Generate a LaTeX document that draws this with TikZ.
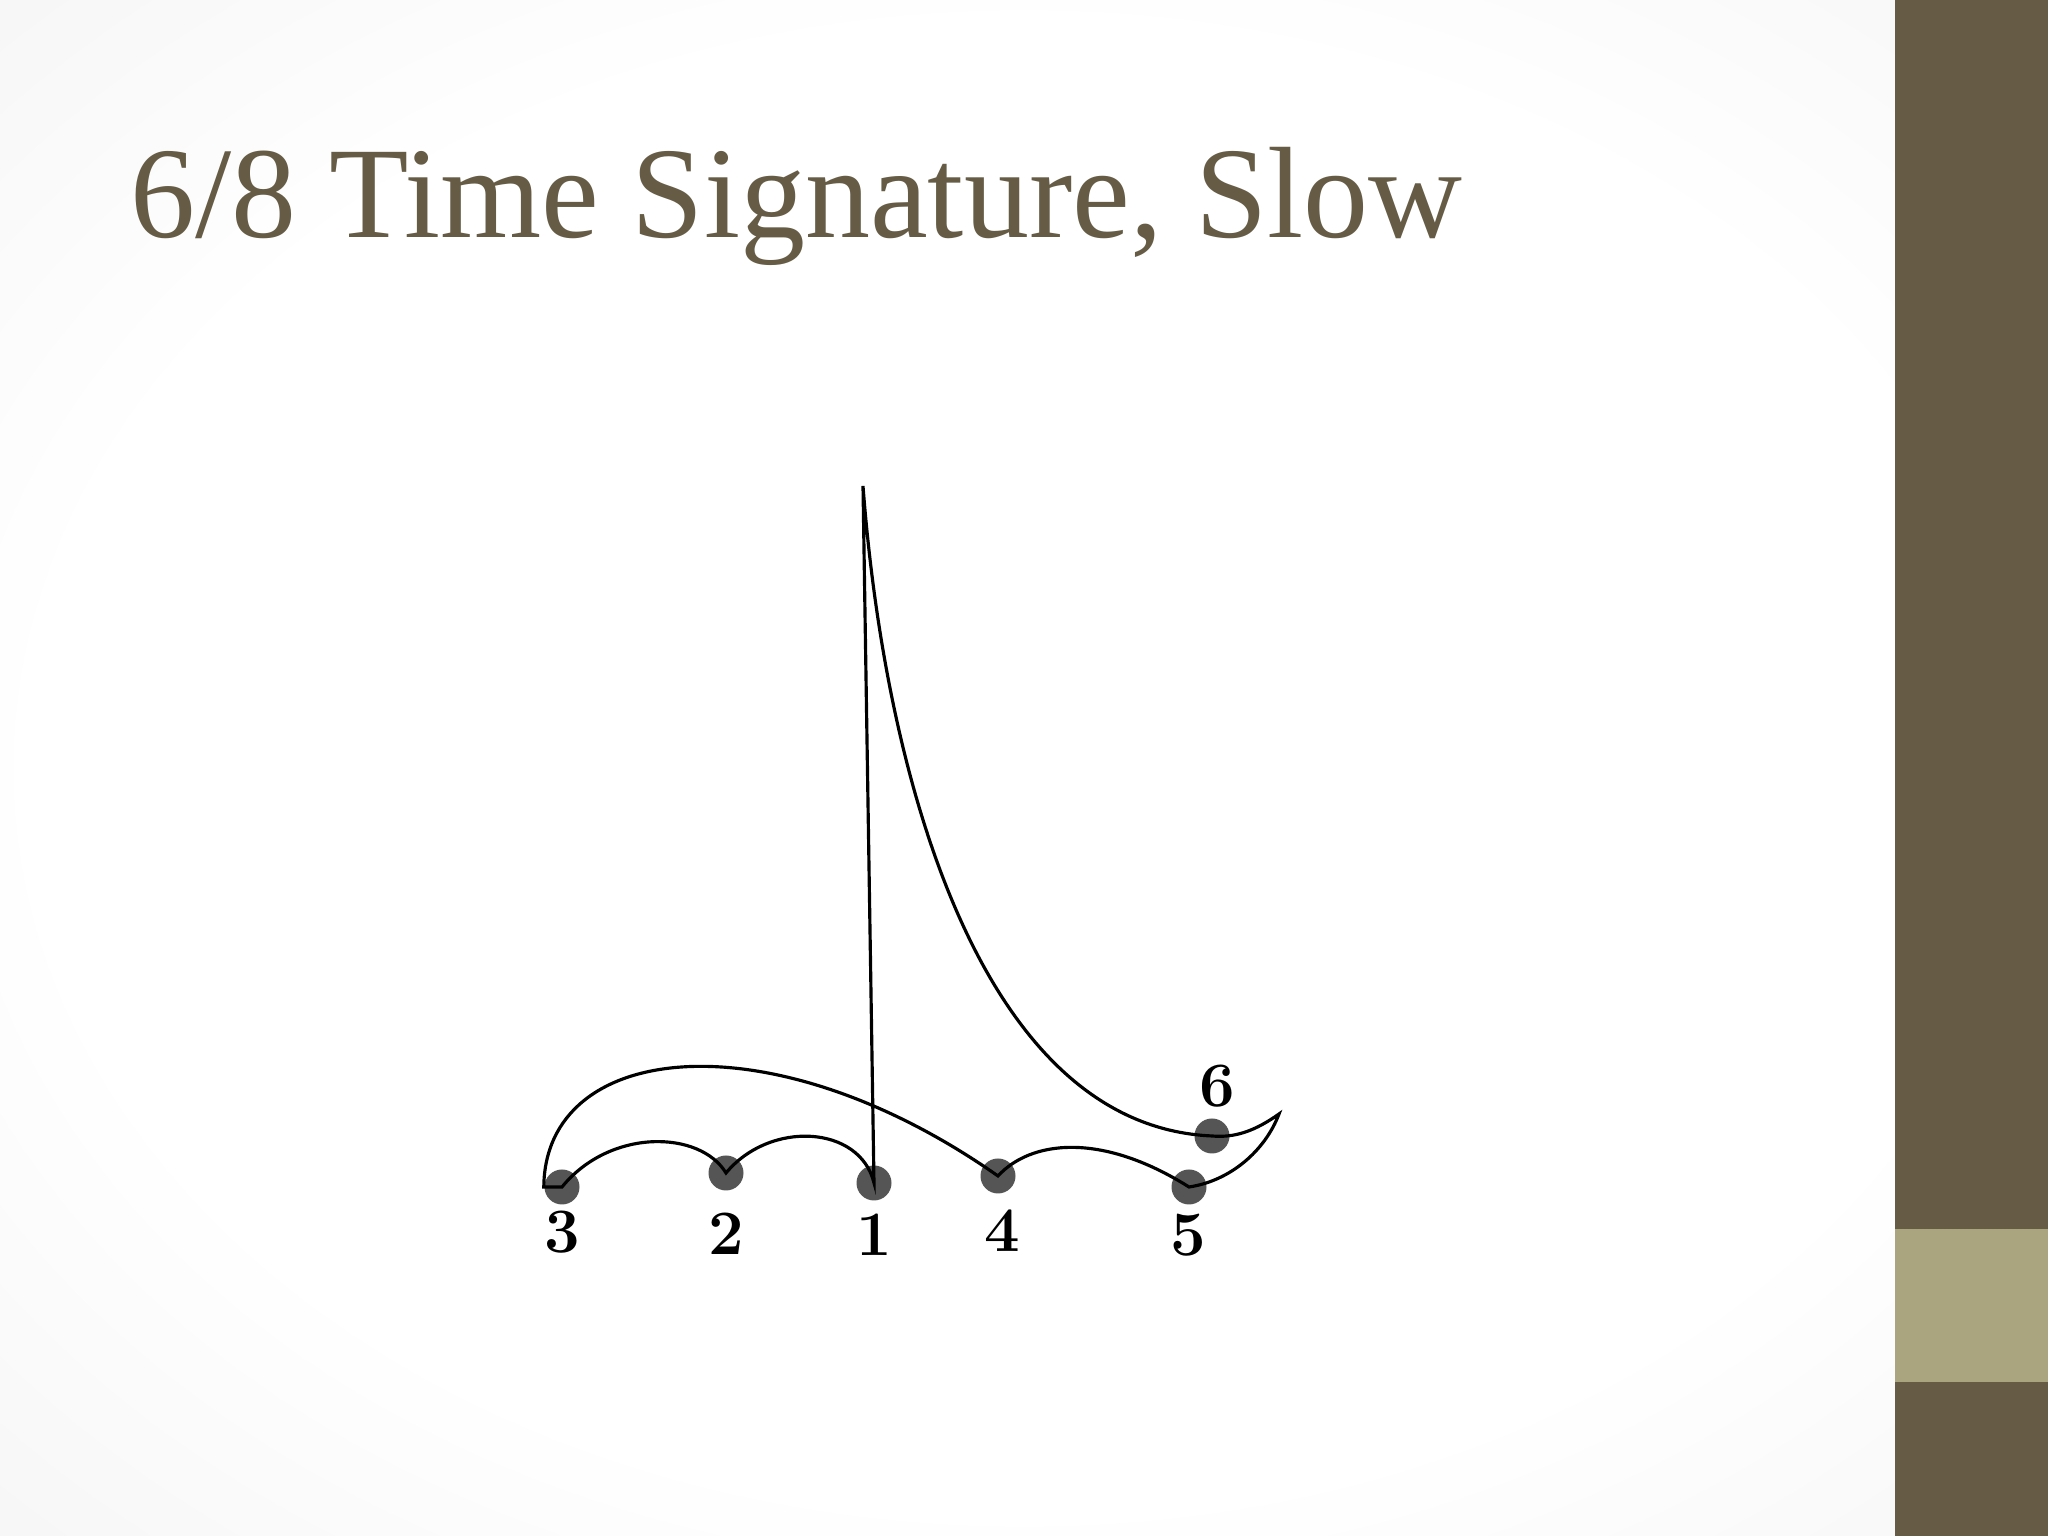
\documentclass[tikz,border=0pt]{standalone}
\usepackage{fontspec}
\usepackage{tikz}
\newfontfamily\titrefont{Liberation Serif}
\definecolor{olivefonce}{RGB}{102,92,70}
\definecolor{oliveclair}{RGB}{170,165,127}
\definecolor{gristemps}{RGB}{85,85,85}
\pgfdeclareradialshading{fondslide}{\pgfpoint{0bp}{0bp}}{color(0bp)=(white); color(24bp)=(white); color(50bp)=(gray!15); color(70bp)=(gray!20)}

\begin{document}
\begin{tikzpicture}
			\tikzset{point/.style={circle, fill=gristemps, minimum size=0.35cm, inner sep=0pt},
			chiffre/.style={font=\fontsize{18}{20}\selectfont\bfseries, inner sep=0pt},
			trait/.style={line width=0.9pt, black}};

			\useasboundingbox (0,0) rectangle (20.48,15.36);
			\shade[shading=fondslide] (0,0) rectangle (20.48,15.36);
			\fill[olivefonce] (18.95,0) rectangle (20.48,15.36);
			\fill[oliveclair] (18.95,1.54) rectangle (20.48,3.07);

			\node[anchor=base west, inner sep=0pt, text=olivefonce, font=\titrefont\fontsize{37}{44}\selectfont] (titre) at (1.30,12.98) {6/8 Time Signature, Slow};

			\foreach \name/\x/\y/\lx/\ly in {3/5.62/3.49/5.62/3.04, 2/7.26/3.63/7.26/3.02, 1/8.74/3.53/8.74/3.01, 4/9.98/3.60/10.02/3.05, 5/11.89/3.49/11.88/3.01, 6/12.12/4.00/12.17/4.50}{
				\node[point] (p\name) at (\x, \y) {};
				\node[chiffre] (c\name) at (\lx, \ly) {\name};
			}
			\coordinate (haut) at (8.63,10.50);
			\coordinate (pointe) at (12.79,4.22);

			\draw[trait] (haut) -- (p1.center)
				.. controls (8.60,4.11) and (7.70,4.16) .. (p2.center)
				.. controls (7.00,4.06) and (6.10,4.08) .. (p3.center) -- (p3.west)
				.. controls (5.45,4.95) and (7.70,5.20) .. (p4.center)
				.. controls (10.30,3.95) and (11.00,4.05) .. (p5.center)
				.. controls (12.30,3.55) and (12.65,3.85) .. (pointe)
				.. controls (12.55,4.05) and (12.35,3.98) .. (p6.center)
				.. controls (9.80,4.10) and (8.85,7.60) .. (haut);

		\end{tikzpicture}
\end{document}
